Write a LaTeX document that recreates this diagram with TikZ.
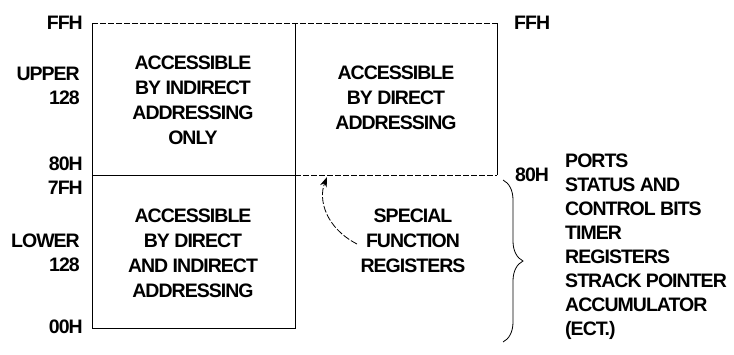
\documentclass[tikz,border=0pt]{standalone}
\usepackage{fontspec}
\setmainfont{Liberation Sans}[LetterSpace=-5]
\usetikzlibrary{arrows.meta,decorations.pathreplacing}
\begin{document}
\begin{tikzpicture}[x=1pt,y=-1pt,
  txt/.style={font=\fontsize{19.5}{25}\selectfont\bfseries, align=center, inner sep=0pt},
  lst/.style={font=\fontsize{19.5}{24}\selectfont\bfseries, align=left, inner sep=0pt, anchor=west},
  lbl/.style={font=\fontsize{19.5}{24}\selectfont\bfseries, align=right, inner sep=0pt, anchor=east},
  rlbl/.style={font=\fontsize{19.5}{24}\selectfont\bfseries, inner sep=0pt, anchor=west},
  edge/.style={line width=0.9pt, black},
  faint/.style={line width=0.8pt, black, dash pattern=on 6pt off 2pt}]
\useasboundingbox (0,0) rectangle (734,354);
% corners
\coordinate (tl) at (92,23);
\coordinate (tm) at (295,23);
\coordinate (tr) at (497,23);
\coordinate (ml) at (92,175);
\coordinate (mm) at (295,175);
\coordinate (mr) at (497,175);
\coordinate (bl) at (92,328);
\coordinate (bm) at (295,328);
% boxes
\draw[faint] (tl) -- (tr);
\draw[edge] (tl) -- (bl) -- (bm) -- (tm);
\draw[edge] (tr) -- (mr);
\draw[edge] (ml) -- (mm);
\draw[faint] (mm) -- (mr);
% box texts
\node[txt] (ul) at (193,100) {ACCESSIBLE\\BY INDIRECT\\ADDRESSING\\ONLY};
\node[txt] (ur) at (396,98) {ACCESSIBLE\\BY DIRECT\\ADDRESSING};
\node[txt] (ll) at (193,253) {ACCESSIBLE\\BY DIRECT\\AND INDIRECT\\ADDRESSING};
\node[txt] (sfr) at (413,241) {SPECIAL\\FUNCTION\\REGISTERS};
% left labels
\node[lbl] (ffhl) at (83,23) {FFH};
\node[lbl] (upper) at (80,86) {UPPER\\128};
\node[lbl] (h80l) at (83,164) {80H};
\node[lbl] (h7f) at (83,188) {7FH};
\node[lbl] (lower) at (80,253) {LOWER\\128};
\node[lbl] (h00) at (83,327) {00H};
% right labels
\node[rlbl] (ffhr) at (514,23) {FFH};
\node[rlbl] (h80r) at (515,175) {80H};
\node[lst] (list) at (565,247) {PORTS\\STATUS AND\\CONTROL BITS\\TIMER\\REGISTERS\\STRACK POINTER\\ACCUMULATOR\\(ECT.)};
% arrow
\coordinate (as) at (357,244);
\coordinate (ae) at (327,177);
\draw[line width=0.8pt, dash pattern=on 7pt off 2pt, -{Stealth[length=10pt,width=7pt]}] (as) .. controls (326,228) and (318,200) .. (ae);
% brace
\coordinate (bt) at (503,180);
\coordinate (bb) at (503,342);
\draw[line width=0.8pt, decorate, decoration={brace, amplitude=20pt}] (bt) -- (bb);
\end{tikzpicture}
\end{document}
